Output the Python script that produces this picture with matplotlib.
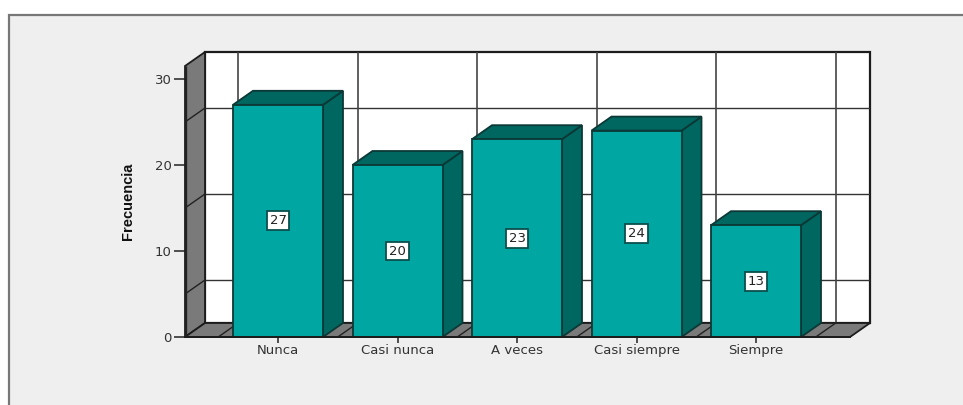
import numpy as np
import matplotlib
matplotlib.use('Agg')
import matplotlib.pyplot as plt
from matplotlib.patches import Polygon, Rectangle

categories = ['Nunca', 'Casi nunca', 'A veces', 'Casi siempre', 'Siempre']
values = [27, 20, 23, 24, 13]
y_ticks = [0, 10, 20, 30]
wall_lines = [5, 15, 25]

W, H = 963, 405
BG = '#efefef'
FRONT = '#00a6a2'
DARK = '#006660'
WALL = '#7a7a7a'
LINE = '#1c1c1c'
BAR_LINE = '#0c3836'

fig = plt.figure(figsize=(W / 100, H / 100), dpi=100, facecolor='white')
# panel runs off the right and bottom edges, so only top and left lines show
fig.patches.append(Rectangle((9 / W, -0.05), (W + 20) / W, (H - 15) / H + 0.05, transform=fig.transFigure,
                             facecolor=BG, edgecolor='#777777', lw=1.6, zorder=-1))

# axes spans front-left corner to the back-right corner, one category = 119.5 px
left, right, bottom, top = 185, 870, 337, 52
ax = fig.add_axes([left / W, 1 - bottom / H, (right - left) / W, (bottom - top) / H])
ax.patch.set_visible(False)
px_x = 119.5
px_y = 8.6
ax.set_xlim((left - 278) / px_x, (right - 278) / px_x)
ax.set_ylim(0, (bottom - top) / px_y)

dx = 20 / px_x
dy = 14 / px_y
x0, x1 = ax.get_xlim()
y1 = ax.get_ylim()[1]
x_front_end = x1 - dx
y_front_top = y1 - dy
bar_w = 90 / px_x
n = len(values)


def poly(pts, fc, z, lw=1.3, ec=LINE):
    ax.add_patch(Polygon(pts, closed=True, facecolor=fc, edgecolor=ec, lw=lw, zorder=z, clip_on=False))


# back wall
poly([(x0 + dx, dy), (x1, dy), (x1, y1), (x0 + dx, y1)], 'white', 1, lw=1.6)
for v in wall_lines:
    ax.plot([x0 + dx, x1], [v + dy, v + dy], color='#333333', lw=1.0, zorder=2)
for i in range(n + 1):
    b = i - 0.5
    ax.plot([b + dx, b + dx], [dy, y1], color='#444444', lw=1.2, zorder=2)

# left wall and floor
poly([(x0, 0), (x0 + dx, dy), (x0 + dx, y1), (x0, y_front_top)], WALL, 3)
poly([(x0, 0), (x0 + dx, dy), (x1, dy), (x_front_end, 0)], WALL, 3)
for v in wall_lines:
    ax.plot([x0, x0 + dx], [v, v + dy], color='#222222', lw=1.0, zorder=4)
for i in range(n + 1):
    b = i - 0.5
    ax.plot([b, b + dx], [0, dy], color='#222222', lw=1.0, zorder=4)
ax.plot([x0, x0], [0, y_front_top], color='#222222', lw=2.4, zorder=5, solid_capstyle='butt')

# bars
for i, v in enumerate(values):
    l = i - bar_w / 2
    r = i + bar_w / 2
    poly([(r, 0), (r + dx, dy), (r + dx, v + dy), (r, v)], DARK, 6, ec=BAR_LINE)
    poly([(l, v), (r, v), (r + dx, v + dy), (l + dx, v + dy)], DARK, 6, ec=BAR_LINE)
    poly([(l, 0), (r, 0), (r, v), (l, v)], FRONT, 7, ec=BAR_LINE)
    ax.text(i, v / 2, str(v), ha='center', va='center', fontsize=9.5, color='#222222', zorder=8,
            family='DejaVu Sans',
            bbox=dict(boxstyle='square,pad=0.22', facecolor='white', edgecolor='#0b4f4c', lw=1.3))

for s in ['top', 'right', 'left']:
    ax.spines[s].set_visible(False)
ax.spines['bottom'].set_bounds(x0, x_front_end)
ax.spines['bottom'].set_linewidth(1.4)
ax.spines['bottom'].set_color(LINE)
ax.spines['bottom'].set_zorder(9)

ax.set_yticks(y_ticks)
ax.set_xticks(range(n))
ax.set_xticklabels(categories)
ax.tick_params(axis='y', length=8, width=1.2, color='#333333', pad=1.5, labelsize=9.5, labelcolor='#333333')
ax.tick_params(axis='x', length=4, width=1.2, color='#333333', pad=1, labelsize=9.5, labelcolor='#333333')

fig.text(128 / W, 1 - 201 / H, 'Frecuencia', rotation=90, ha='center', va='center', fontsize=10.5,
         fontweight='bold', family='Liberation Sans', color='#111111')

fig.savefig('out.png', dpi=100, facecolor='white')
